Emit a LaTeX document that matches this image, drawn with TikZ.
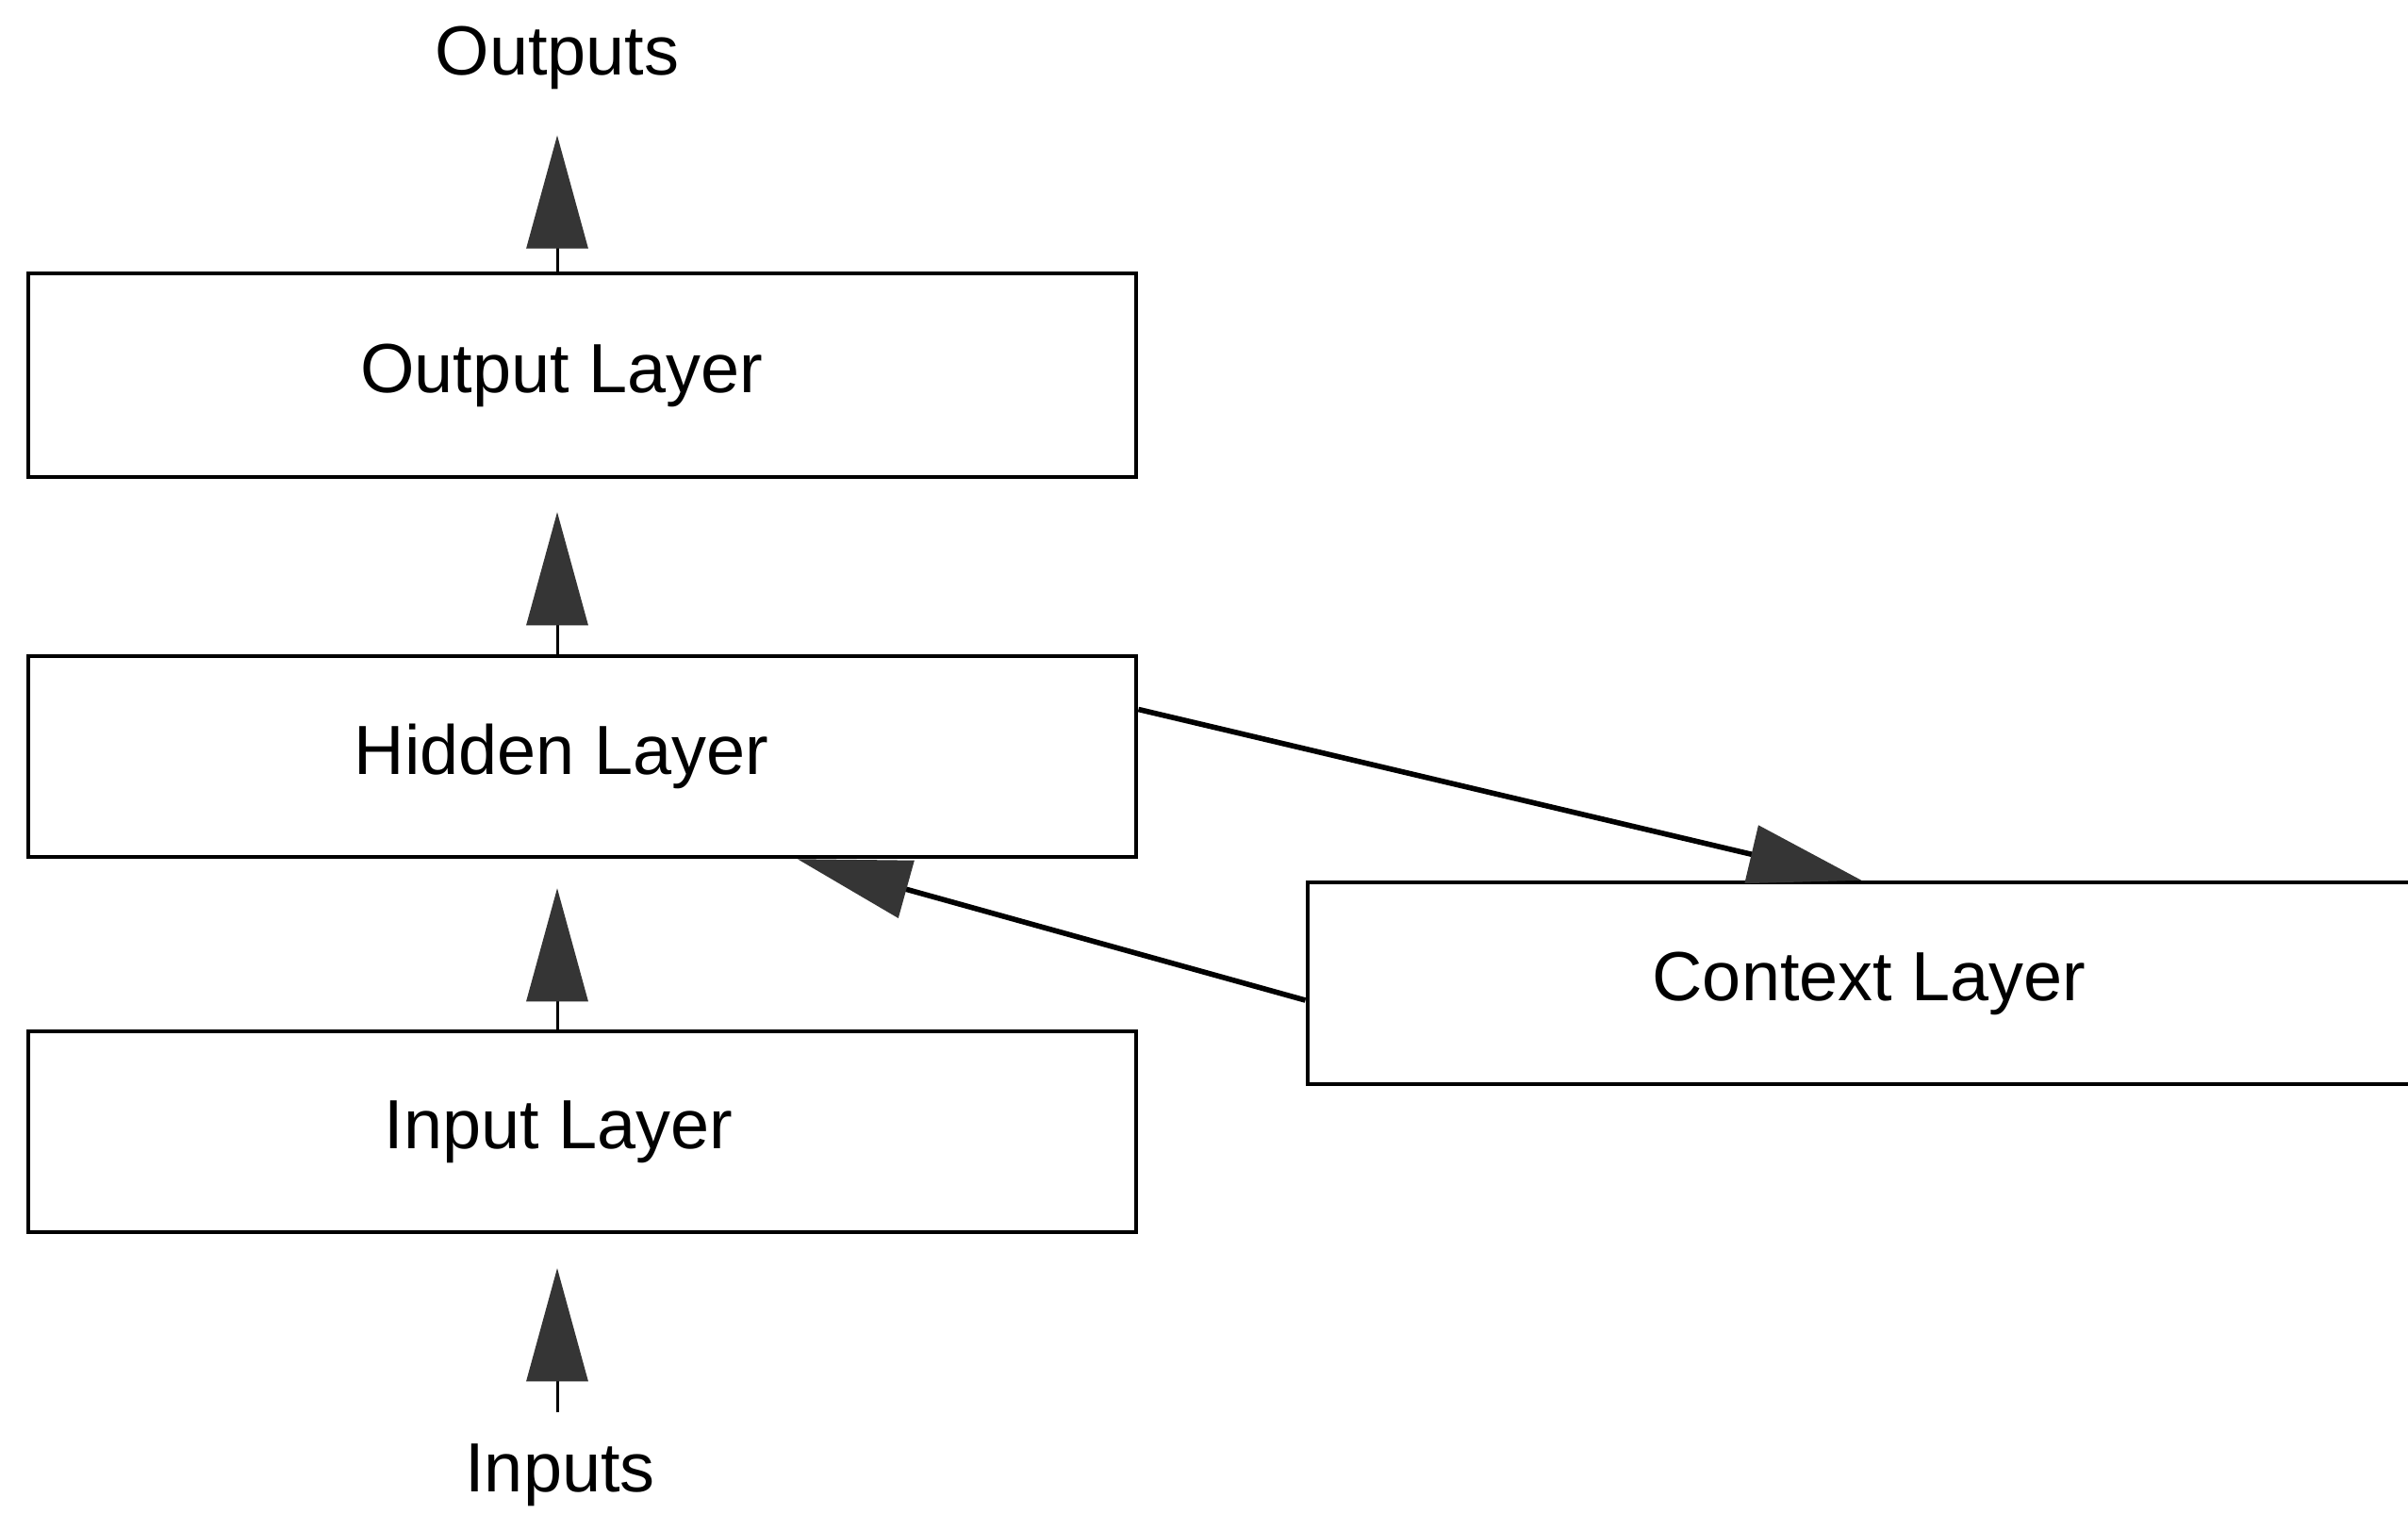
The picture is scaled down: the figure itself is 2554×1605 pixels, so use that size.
\documentclass[tikz,border=0pt]{standalone}
\usepackage{fontspec}
\setmainfont{Liberation Sans}
\usetikzlibrary{arrows.meta}
\definecolor{headgray}{HTML}{353535}
\tikzset{
  layerbox/.style={draw=black, line width=1.2pt, minimum width=11.75cm, inner sep=0pt,
    font=\fontsize{21}{25}\selectfont},
  lbl/.style={inner sep=0pt, font=\fontsize{21}{25}\selectfont, anchor=base},
  uparr/.style={line width=0.85pt, -{Triangle[length=1.2cm,width=0.65cm,color=headgray]}},
  diagarr/.style={line width=1.6pt, -{Triangle[length=1.2cm,width=0.62cm,color=headgray]}}
}
\begin{document}
\begin{tikzpicture}[x=0.01cm,y=-0.01cm]
\useasboundingbox (0,0) rectangle (2554,1605);
\clip (0,0) rectangle (2554,1605);
\fill[white] (0,0) rectangle (2554,1605);

\node[layerbox, minimum height=2.16cm] (out) at (617.5,398) {Output Layer\hspace*{0.44cm}};
\node[layerbox, minimum height=2.13cm] (hid) at (617.5,802.5) {Hidden Layer\hspace*{0.44cm}};
\node[layerbox, minimum height=2.13cm] (inp) at (617.5,1200.5) {Input Layer\hspace*{0.5cm}};
\node[layerbox, minimum height=2.14cm] (ctx) at (1974.5,1043) {\hspace*{0.16cm}Context Layer};

\node[lbl] (outputs) at (591,79) {Outputs};
\node[lbl] (inputs) at (594,1582) {Inputs};

\draw[uparr, shorten >=0.485cm] (out.north -| outputs.base) -- (outputs.south);
\draw[uparr, shorten >=0.35cm] (hid.north -| outputs.base) -- (out.south -| outputs.base);
\draw[uparr, shorten >=0.31cm] (inp.north -| outputs.base) -- (hid.south -| outputs.base);
\draw[uparr, shorten <=0.32cm, shorten >=0.36cm] (inputs.north -| outputs.base) -- (inp.south -| outputs.base);

\draw[diagarr] ([yshift=0.5cm]hid.east) -- (ctx.north);
\draw[diagarr] ([yshift=-0.18cm]ctx.west) -- ([xshift=2.28cm]hid.south);
\end{tikzpicture}
\end{document}
